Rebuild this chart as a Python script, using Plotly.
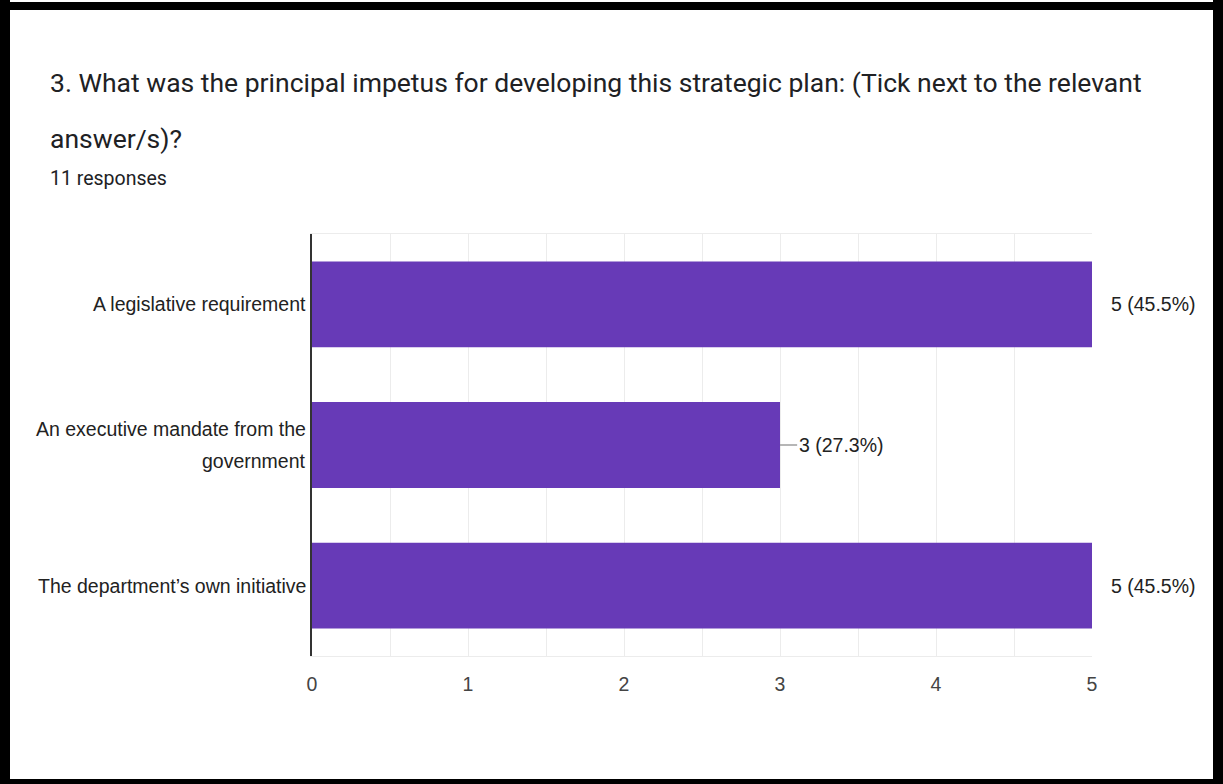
import plotly.graph_objects as go

# Survey question results
categories = [
    "A legislative requirement",
    "An executive mandate from the\ngovernment",
    "The department\u2019s own initiative",
]
counts = [5, 3, 5]
percents = ["45.5%", "27.3%", "45.5%"]
x_ticks = [0, 1, 2, 3, 4, 5]

title_lines = [
    "3. What was the principal impetus for developing this strategic plan: (Tick next to the relevant",
    "answer/s)?",
]
subtitle = "11 responses"

W, H = 1223, 784
L, R, T, B = 312, 131, 234, 128
PW, PH = W - L - R, H - T - B

BAR = "#673AB7"
HEAD_FONT = "Roboto, Arial, sans-serif"
CHART_FONT = "Liberation Sans, Arial, sans-serif"
CHART_SIZE = 19.5


def px_x(px):
    return (px - L) / PW


def px_y(py):
    return (H - B - py) / PH


fig = go.Figure()

fig.add_trace(go.Bar(
    x=counts, y=categories, orientation="h",
    marker=dict(color=BAR, line=dict(width=0)),
    width=0.61, hoverinfo="skip", showlegend=False,
))

# short leader stems from bar end toward the value label
stem_len = 0.11
for c, v in zip(categories, counts):
    fig.add_trace(go.Scatter(
        x=[v, v + stem_len], y=[c, c], mode="lines",
        line=dict(color="#9e9e9e", width=1.5),
        hoverinfo="skip", showlegend=False, cliponaxis=True,
    ))

annotations = []
for c, v, p in zip(categories, counts, percents):
    annotations.append(dict(
        x=v, y=c, xref="x", yref="y", xanchor="left", yanchor="middle",
        xshift=17, text=f"{v} ({p})", showarrow=False,
        font=dict(family=CHART_FONT, size=CHART_SIZE, color="#222222"),
    ))

# category labels, one annotation per line for wider line spacing
for c in categories:
    lines = c.split("\n")
    n = len(lines)
    for i, ln in enumerate(lines):
        annotations.append(dict(
            x=0, y=c, xref="paper", yref="y", xanchor="right", yanchor="middle",
            xshift=-4, yshift=(n - 1) * 16 - i * 32, text=ln, showarrow=False,
            font=dict(family=CHART_FONT, size=CHART_SIZE, color="#222222"),
        ))

annotations.append(dict(
    x=px_x(48), y=px_y(83), xref="paper", yref="paper", xanchor="left", yanchor="middle",
    text=title_lines[0], showarrow=False, font=dict(family=HEAD_FONT, size=26.5, color="#202124"),
))
annotations.append(dict(
    x=px_x(48), y=px_y(138), xref="paper", yref="paper", xanchor="left", yanchor="middle",
    text=title_lines[1], showarrow=False, font=dict(family=HEAD_FONT, size=26.5, color="#202124"),
))
annotations.append(dict(
    x=px_x(48), y=px_y(178), xref="paper", yref="paper", xanchor="left", yanchor="middle",
    text=subtitle, showarrow=False, font=dict(family=HEAD_FONT, size=19.5, color="#202124"),
))

# thick black frame around the card
frame = [
    (0, 0, 10, H),
    (0, 2, W, 10),
    (1213, 0, W, H),
    (0, 779, W, H),
]
shapes = []
for x0, y0, x1, y1 in frame:
    shapes.append(dict(
        type="rect", xref="paper", yref="paper",
        x0=px_x(x0), x1=px_x(x1), y0=px_y(y0), y1=px_y(y1),
        fillcolor="black", line=dict(width=0), layer="above",
    ))

fig.update_layout(
    width=W, height=H,
    margin=dict(l=L, r=R, t=T, b=B),
    paper_bgcolor="white", plot_bgcolor="white",
    bargap=0.39,
    annotations=annotations,
    shapes=shapes,
    xaxis=dict(
        range=[0, 5], tickvals=x_ticks, ticktext=[str(t) for t in x_ticks],
        showgrid=True, gridcolor="#ececec", gridwidth=1,
        minor=dict(dtick=0.5, showgrid=True, gridcolor="#ececec", gridwidth=1),
        showline=True, mirror=True, linecolor="#ececec", linewidth=1,
        zeroline=False, ticks="outside", ticklen=11, tickcolor="rgba(0,0,0,0)",
        tickfont=dict(family=CHART_FONT, size=CHART_SIZE, color="#444444"),
        fixedrange=True,
    ),
    yaxis=dict(
        autorange="reversed", showticklabels=False, showgrid=False,
        showline=True, linecolor="#333333", linewidth=2, zeroline=False,
        fixedrange=True,
    ),
)

fig.write_html("out.html")
